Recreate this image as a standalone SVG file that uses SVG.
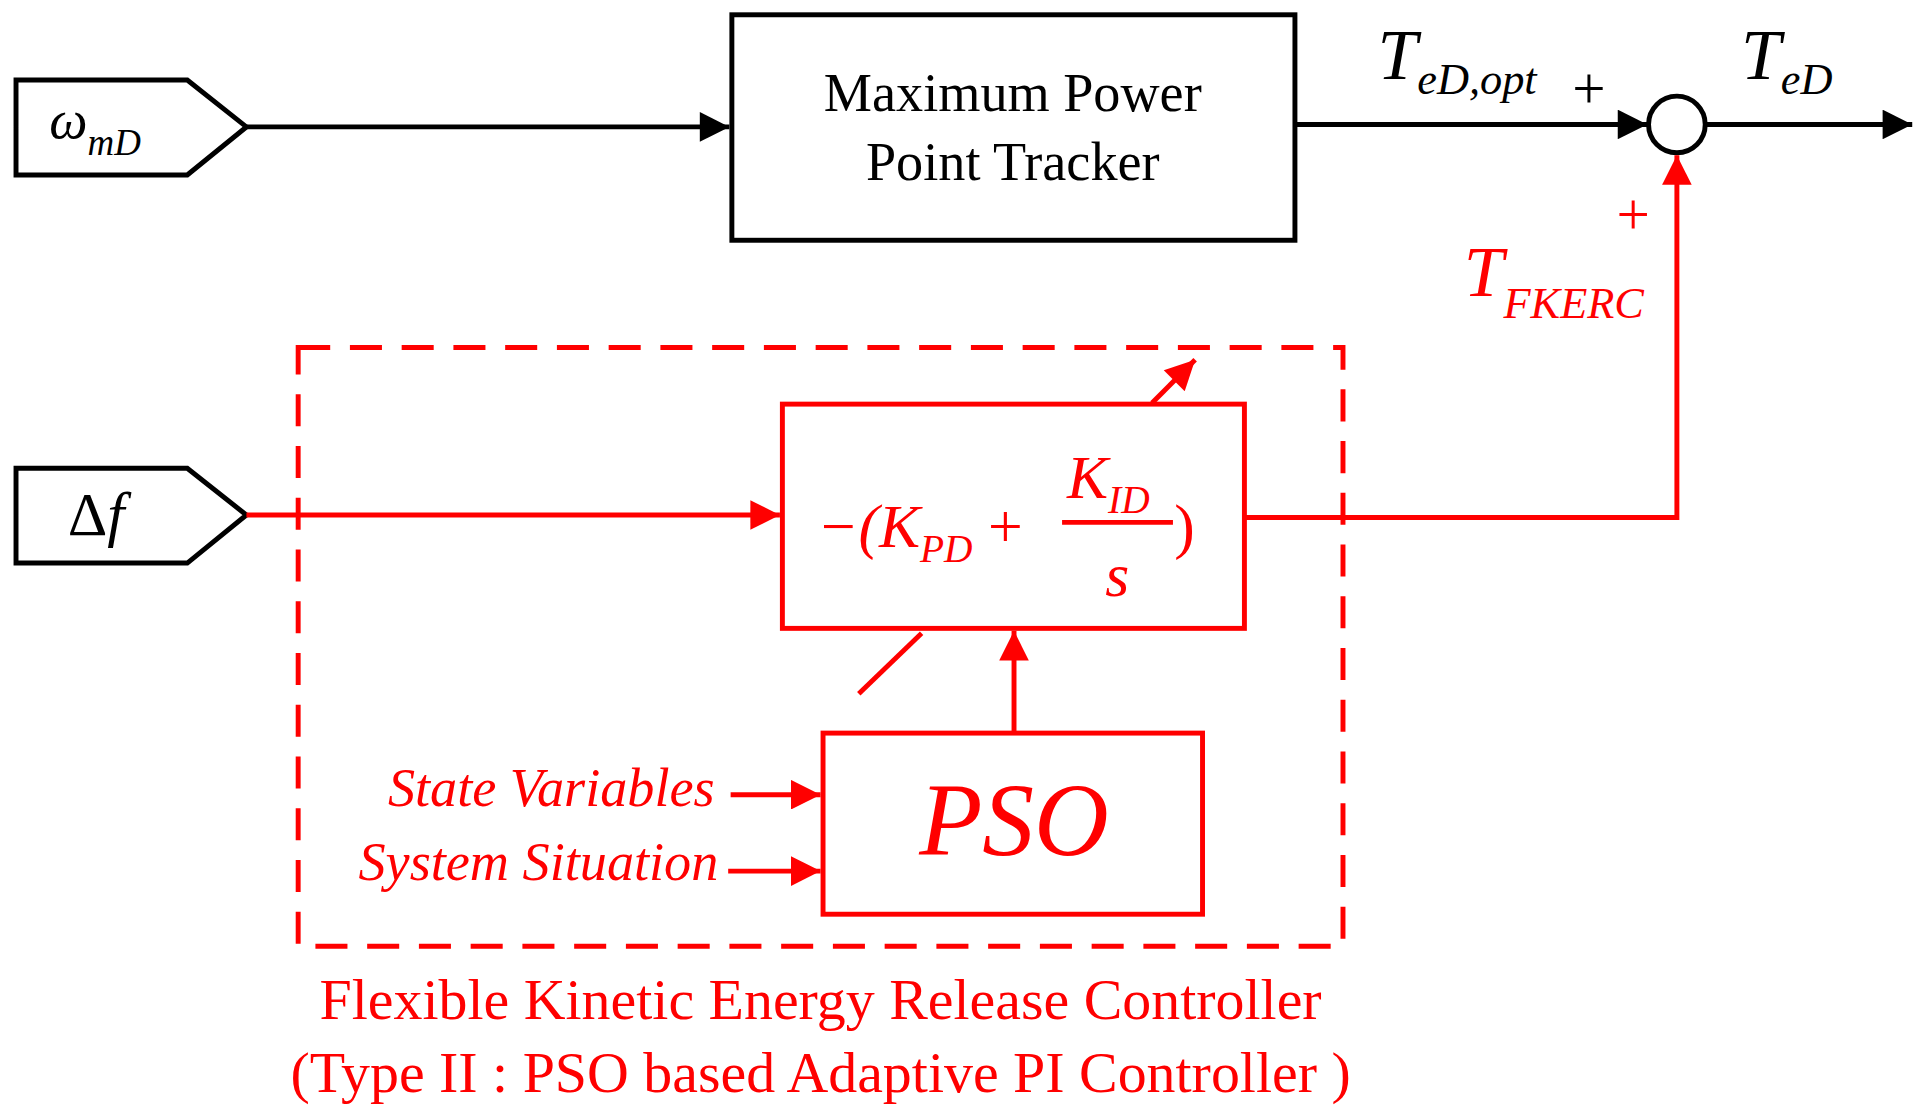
<svg xmlns="http://www.w3.org/2000/svg" width="1922" height="1107" viewBox="0 0 1922 1107">
<defs>
<marker id="ar" viewBox="0 0 10 10" markerWidth="28" markerHeight="24" refX="10" refY="5" orient="auto" markerUnits="userSpaceOnUse"><path d="M0,0 L10,5 L0,10 Z" fill="#f00"/></marker>
<marker id="ak" viewBox="0 0 10 10" markerWidth="28" markerHeight="24" refX="10" refY="5" orient="auto" markerUnits="userSpaceOnUse"><path d="M0,0 L10,5 L0,10 Z" fill="#000"/></marker>
</defs>
<style>
.k{stroke:#000;stroke-width:4;fill:none}
.r{stroke:#f00;stroke-width:4;fill:none}
.t{font-family:"Liberation Serif",serif;fill:#000}
.tr{font-family:"Liberation Serif",serif;fill:#f00}
.i{font-style:italic}
</style>
<rect width="1922" height="1107" fill="#fff"/>
<g transform="scale(1.2321)">
<g id="omega"><path class="k" d="M13,65 L152,65 L200,103 L152,142 L13,142 Z"/><text class="t i" x="40" y="112" font-size="44">ω<tspan font-size="30" dy="14">mD</tspan></text></g>
<g id="df"><path class="k" d="M13,380 L152,380 L200,418 L152,457 L13,457 Z"/><text class="t" x="55" y="434" font-size="50">Δ<tspan class="i">f</tspan></text></g>
<g id="mppt"><rect class="k" x="594" y="12" width="457" height="183"/><text class="t" x="822" y="90" font-size="44" text-anchor="middle">Maximum Power</text><text class="t" x="822" y="146" font-size="44" text-anchor="middle">Point Tracker</text></g>
<g id="sum"><circle class="k" cx="1361" cy="101" r="23"/></g>
<g id="pi"><rect class="r" x="635" y="328" width="375" height="182"/><text class="tr i" x="663" y="444" font-size="50">−(K<tspan font-size="32" dy="12">PD</tspan><tspan dy="-12" font-style="normal"> +</tspan></text><text class="tr i" x="866" y="404" font-size="50">K<tspan font-size="32" dy="12">ID</tspan></text><line class="r" x1="862" y1="424" x2="952" y2="424" stroke-width="3"/><text class="tr i" x="897" y="484" font-size="50">s</text><text class="tr" x="953" y="444" font-size="50">)</text></g>
<g id="pso"><rect class="r" x="668" y="595" width="308" height="147"/><text class="tr i" x="823" y="694" font-size="84" text-anchor="middle">PSO</text></g>
<g id="fkerc"><rect class="r" x="242" y="282" width="848" height="486" stroke-dasharray="26,16"/></g>
<g id="labels">
<text class="t i" x="1118" y="64" font-size="58">T<tspan font-size="36" dy="12">eD,opt</tspan></text>
<text class="t" x="1276" y="88" font-size="48">+</text>
<text class="t i" x="1413" y="64" font-size="58">T<tspan font-size="36" dy="12">eD</tspan></text>
<text class="tr" x="1312" y="190" font-size="48">+</text>
<text class="tr i" x="1188" y="240" font-size="58">T<tspan font-size="36" dy="18">FKERC</tspan></text>
<text class="tr i" x="580" y="654" font-size="44" text-anchor="end">State Variables</text>
<text class="tr i" x="583" y="714" font-size="44" text-anchor="end">System Situation</text>
<text class="tr" x="666" y="827" font-size="47" text-anchor="middle">Flexible Kinetic Energy Release Controller</text>
<text class="tr" x="666" y="886" font-size="47" text-anchor="middle">(Type II : PSO based  Adaptive PI Controller )</text>
</g>
<g id="connectors">
<line class="k" x1="200" y1="103" x2="592" y2="103" marker-end="url(#ak)"/>
<line class="k" x1="1051" y1="101" x2="1337" y2="101" marker-end="url(#ak)"/>
<line class="k" x1="1384" y1="101" x2="1552" y2="101" marker-end="url(#ak)"/>
<line class="r" x1="200" y1="418" x2="633" y2="418" marker-end="url(#ar)"/>
<path class="r" d="M1010,420 L1361,420 L1361,126" marker-end="url(#ar)"/>
<line class="r" x1="823" y1="595" x2="823" y2="512" marker-end="url(#ar)"/>
<line class="r" x1="697" y1="563" x2="748" y2="514"/>
<line class="r" x1="935" y1="327" x2="970" y2="292" marker-end="url(#ar)"/>
<line class="r" x1="593" y1="645" x2="666" y2="645" marker-end="url(#ar)"/>
<line class="r" x1="591" y1="707" x2="666" y2="707" marker-end="url(#ar)"/>
</g>
</g>
</svg>
